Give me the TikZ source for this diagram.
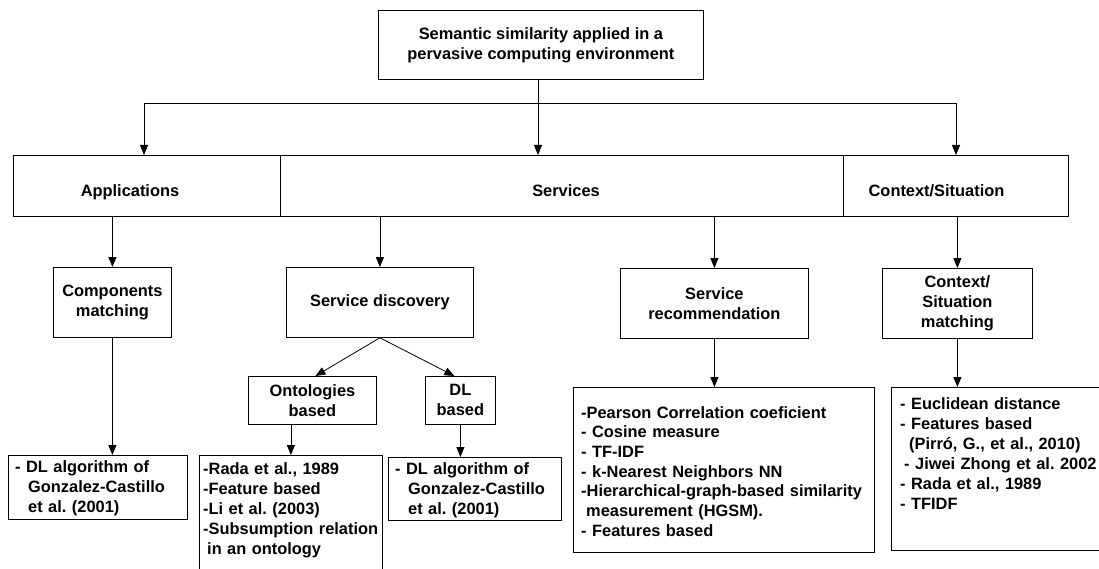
\documentclass[tikz,border=0pt]{standalone}
\usepackage{fontspec}
\setmainfont{Liberation Sans}
\usetikzlibrary{arrows.meta}
\frenchspacing

\tikzset{
  box/.style={draw, line width=0.8pt, inner sep=0pt, anchor=north west, align=center},
  arr/.style={line width=0.8pt, -{Triangle[length=10pt,width=8pt]}},
  listtxt/.style={anchor=base west, inner sep=0pt, text width=300pt, align=left},
}

\begin{document}
\begin{tikzpicture}[x=1pt, y=-1pt, font=\fontsize{16.4}{20}\selectfont\bfseries]
    \useasboundingbox (0,0) rectangle (1099,569);
    \clip (0,0) rectangle (1099,569);
    \fill[white] (0,0) rectangle (1099,569);

    % top
    \node[box, minimum width=325pt, minimum height=69pt] (top) at (378,10) {Semantic similarity applied in a\\pervasive computing environment};

    % second row
    \node[box, minimum width=267pt, minimum height=61pt] (app) at (13,155) {};
    \node[box, minimum width=563pt, minimum height=61pt] (serv) at (280,155) {};
    \node[box, minimum width=225pt, minimum height=61pt] (ctx) at (843,155) {};
    \node[anchor=base] (apptxt) at (130,197) {Applications};
    \node[anchor=base] (servtxt) at (566,197) {Services};
    \node[anchor=base] (ctxtxt) at (936.5,197) {Context/Situation};

    % third row
    \node[box, minimum width=118pt, minimum height=70pt] (comp) at (53,267) {Components\\matching};
    \node[box, minimum width=187pt, minimum height=70pt] (disc) at (286,267) {Service discovery};
    \node[box, minimum width=188pt, minimum height=70pt] (rec) at (620,268) {Service\\recommendation};
    \node[box, minimum width=150pt, minimum height=70pt] (cm) at (882,268) {Context/\\Situation\\matching};

    \node[box, minimum width=128pt, minimum height=48pt] (onto) at (248,376) {Ontologies\\based};
    \node[box, minimum width=70pt, minimum height=48pt] (dlb) at (425,376) {DL\\based};

    % lists
    \node[box, minimum width=179pt, minimum height=64pt] (dlA) at (8,455) {};
    \node[box, minimum width=183pt, minimum height=150pt] (rada) at (199,455) {};
    \node[box, minimum width=173pt, minimum height=63pt] (dlB) at (388,457) {};
    \node[box, minimum width=301pt, minimum height=165pt] (pear) at (573,387) {};
    \node[box, minimum width=225pt, minimum height=163pt] (euc) at (891,387) {};

    \node[listtxt] (dlAtxt) at (15,472) {- DL algorithm of\\\hspace*{13pt}Gonzalez-Castillo\\\hspace*{13pt}et al. (2001)};
    \node[listtxt] (radatxt) at (203,474) {-Rada et al., 1989\\-Feature based\\-Li et al. (2003)\\-Subsumption relation\\\hspace*{4pt}in an ontology};
    \node[listtxt] (dlBtxt) at (395,474) {- DL algorithm of\\\hspace*{13pt}Gonzalez-Castillo\\\hspace*{13pt}et al. (2001)};
    \node[listtxt, font=\fontsize{16.4}{19.7}\selectfont\bfseries] (peartxt) at (581,418) {-Pearson Correlation coeficient\\- Cosine measure\\- TF-IDF\\- k-Nearest Neighbors NN\\-Hierarchical-graph-based similarity\\\hspace*{5pt}measurement (HGSM).\\- Features based};
    \node[listtxt] (euctxt) at (900,409) {- Euclidean distance\\- Features based\\\hspace*{9pt}(Pirró, G., et al., 2010)\\\hspace*{4pt}- Jiwei Zhong et al. 2002\\- Rada et al., 1989\\- TFIDF};

    % connectors
    \coordinate (split) at (538,103);
    \coordinate (jl) at (144,103);
    \coordinate (jr) at (956,103);
    \draw[arr] (top.south -| split) -- (serv.north -| split);
    \draw[line width=0.8pt] (jl) -- (jr);
    \draw[arr] (jl) -- (app.north -| jl);
    \draw[arr] (jr) -- (ctx.north -| jr);

    \draw[arr] (comp.north |- app.south) -- (comp.north);
    \draw[arr] (disc.north |- serv.south) -- (disc.north);
    \draw[arr] (rec.north |- serv.south) -- (rec.north);
    \draw[arr] (cm.north |- ctx.south) -- (cm.north);

    \draw[arr] (disc.south) -- ([xshift=3pt]onto.north);
    \draw[arr] (disc.south) -- ([xshift=-6pt]dlb.north);

    \draw[arr] (comp.south) -- (comp.south |- dlA.north);
    \draw[arr] (rada.north |- onto.south) -- (rada.north);
    \draw[arr] (dlb.south) -- (dlb.south |- dlB.north);
    \draw[arr] (rec.south) -- (rec.south |- pear.north);
    \draw[arr] (cm.south) -- (cm.south |- euc.north);
\end{tikzpicture}
\end{document}
